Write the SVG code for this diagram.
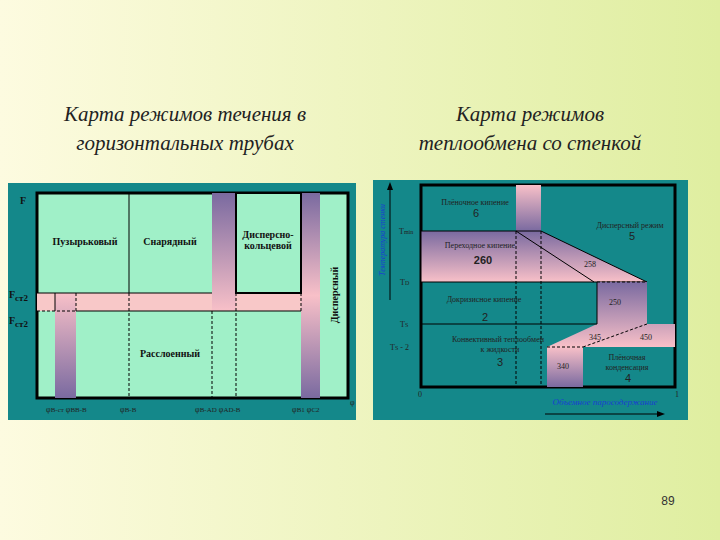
<svg xmlns="http://www.w3.org/2000/svg" width="720" height="540" viewBox="0 0 720 540">
<defs>
<linearGradient id="bg" x1="0" y1="0" x2="1" y2="0"><stop offset="0" stop-color="#fdfbe0"/><stop offset="1" stop-color="#dfeea0"/></linearGradient>
<linearGradient id="vb" x1="0" y1="0" x2="0" y2="1"><stop offset="0" stop-color="#7a6aa0"/><stop offset="0.5" stop-color="#f8c0c8"/><stop offset="1" stop-color="#7a6aa0"/></linearGradient>
<linearGradient id="vbd" x1="0" y1="0" x2="0" y2="1"><stop offset="0" stop-color="#f8c0c8"/><stop offset="1" stop-color="#7a6aa0"/></linearGradient>
<linearGradient id="vbu" x1="0" y1="0" x2="0" y2="1"><stop offset="0" stop-color="#7a6aa0"/><stop offset="1" stop-color="#f8c0c8"/></linearGradient>
<style>
.t{font-family:"Liberation Serif",serif;font-style:italic;font-size:21px;fill:#222}
.l{font-family:"Liberation Serif",serif;font-weight:bold;font-size:10px;fill:#111}
.s{font-family:"Liberation Serif",serif;font-size:8px;fill:#222}
.n{font-family:"Liberation Sans",sans-serif;font-size:11px;fill:#222}
.ln{stroke:#000;stroke-width:1;fill:none}
.ds{stroke:#000;stroke-width:1;stroke-dasharray:3,2;fill:none}
</style>
</defs>
<rect width="720" height="540" fill="url(#bg)"/>
<text class="t" x="185" y="121" text-anchor="middle">Карта режимов течения в</text>
<text class="t" x="185" y="150" text-anchor="middle">горизонтальных трубах</text>
<text class="t" x="530" y="121" text-anchor="middle">Карта режимов</text>
<text class="t" x="530" y="150" text-anchor="middle">теплообмена со стенкой</text>
<g id="left">
<rect x="8" y="183" width="348" height="237" fill="#14888a"/>
<rect x="37" y="193" width="311" height="205" fill="#a0f0c8" stroke="#000" stroke-width="3"/>
<rect x="37" y="293" width="264" height="18" fill="#f8c8c8"/>
<rect x="55" y="293" width="21" height="105" fill="url(#vbd)"/>
<rect x="212" y="193" width="24" height="118" fill="url(#vbu)"/>
<rect x="301" y="193" width="19" height="205" fill="url(#vb)"/>
<rect x="236" y="193" width="65" height="100" fill="#a0f0c8" stroke="#000" stroke-width="2"/>
<line class="ln" x1="129" y1="193" x2="129" y2="293"/>
<line class="ln" x1="37" y1="293" x2="212" y2="293"/>
<line class="ln" x1="76" y1="311" x2="301" y2="311"/>
<line class="ds" x1="37" y1="311" x2="76" y2="311"/>
<line class="ln" x1="55" y1="293" x2="55" y2="311"/>
<line class="ds" x1="76" y1="293" x2="76" y2="311"/>
<line class="ds" x1="129" y1="293" x2="129" y2="398"/>
<line class="ds" x1="212" y1="311" x2="212" y2="398"/>
<line class="ds" x1="236" y1="293" x2="236" y2="398"/>
<line class="ds" x1="301" y1="293" x2="301" y2="311"/>
<text class="l" x="85" y="245" text-anchor="middle">Пузырьковый</text>
<text class="l" x="170" y="245" text-anchor="middle">Снарядный</text>
<text class="l" x="268" y="238" text-anchor="middle">Дисперсно-</text>
<text class="l" x="268" y="249" text-anchor="middle">кольцевой</text>
<text class="l" x="170" y="357" text-anchor="middle">Расслоенный</text>
<text class="l" transform="translate(338,295) rotate(-90)" text-anchor="middle">Дисперсный</text>
<text class="l" x="20" y="204" font-size="17">F</text>
<text class="l" x="9" y="298" font-size="17">F<tspan font-size="9" dy="3">ст2</tspan></text>
<text class="l" x="9" y="324" font-size="17">F<tspan font-size="9" dy="3">ст2</tspan></text>
<text class="s" x="46" y="412" font-size="10">φ<tspan font-size="7">B-ст</tspan> φ<tspan font-size="7">BB-B</tspan></text>
<text class="s" x="120" y="412" font-size="10">φ<tspan font-size="7">B-B</tspan></text>
<text class="s" x="195" y="412" font-size="10">φ<tspan font-size="7">B-AD</tspan> φ<tspan font-size="7">AD-B</tspan></text>
<text class="s" x="292" y="412" font-size="10">φ<tspan font-size="7">B1</tspan> φ<tspan font-size="7">C2</tspan></text>
<text class="s" x="350" y="405" font-size="10">φ</text>
</g>
<g id="right">
<rect x="373" y="180" width="315" height="240" fill="#14888a"/>
<rect x="421" y="185" width="254" height="202" fill="#14888a" stroke="#000" stroke-width="3"/>
<rect x="516" y="185" width="25" height="46" fill="url(#vbd)"/>
<polygon points="421,231 541,231 647,282 421,282" fill="url(#vbu)" stroke="#000" stroke-width="1"/>
<polygon points="597,282 647,282 647,324 675,324 675,347 547,347 597,324" fill="url(#vbu)"/>
<rect x="547" y="347" width="36" height="40" fill="url(#vbd)"/>
<line class="ln" x1="516" y1="231" x2="594" y2="282"/>
<line class="ds" x1="597" y1="282" x2="647" y2="282" stroke-width="2"/>
<line class="ds" x1="516" y1="231" x2="516" y2="387" stroke-width="2"/>
<line class="ds" x1="541" y1="231" x2="541" y2="387"/>
<line class="ln" x1="421" y1="324" x2="597" y2="324"/>
<line class="ds" x1="547" y1="347" x2="583" y2="347" stroke-width="2"/>
<line class="ds" x1="583" y1="347" x2="647" y2="324"/>
<line class="ln" x1="597" y1="282" x2="597" y2="324"/>
<text class="s" x="475" y="205" text-anchor="middle">Плёночное кипение</text>
<text class="n" x="476" y="217" text-anchor="middle">6</text>
<text class="s" x="630" y="228" text-anchor="middle">Дисперсный режим</text>
<text class="n" x="632" y="240" text-anchor="middle">5</text>
<text class="s" x="480" y="248" text-anchor="middle">Переходное кипение</text>
<text class="n" x="483" y="264" text-anchor="middle" font-weight="bold" font-size="13">260</text>
<text class="s" x="590" y="267" text-anchor="middle">258</text>
<text class="s" x="484" y="302" text-anchor="middle">Докризисное кипение</text>
<text class="s" x="615" y="305" text-anchor="middle">250</text>
<text class="n" x="485" y="321" text-anchor="middle">2</text>
<text class="s" x="498" y="342" text-anchor="middle">Конвективный теплообмен</text>
<text class="s" x="500" y="352" text-anchor="middle">к жидкости</text>
<text class="n" x="500" y="366" text-anchor="middle">3</text>
<text class="s" x="595" y="340" text-anchor="middle">345</text>
<text class="s" x="646" y="340" text-anchor="middle">450</text>
<text class="s" x="563" y="369" text-anchor="middle">340</text>
<text class="s" x="627" y="360" text-anchor="middle">Плёночная</text>
<text class="s" x="627" y="370" text-anchor="middle">конденсация</text>
<text class="n" x="628" y="382" text-anchor="middle">4</text>
<text class="s" x="399" y="234">T<tspan font-size="6">min</tspan></text>
<text class="s" x="400" y="285">T<tspan font-size="6">D</tspan></text>
<text class="s" x="400" y="327">T<tspan font-size="6">S</tspan></text>
<text class="s" x="390" y="350">T<tspan font-size="6">S</tspan> - 2</text>
<text class="s" x="418" y="397">0</text>
<text class="s" x="675" y="397">1</text>
<line x1="390" y1="300" x2="390" y2="186" stroke="#000"/>
<polygon points="390,182 387,190 393,190" fill="#000"/>
<text transform="translate(385,240) rotate(-90)" text-anchor="middle" font-family="Liberation Serif,serif" font-style="italic" font-size="8" fill="#1a3fd0">Температура стенки</text>
<text x="605" y="405" text-anchor="middle" font-family="Liberation Serif,serif" font-style="italic" font-size="9" fill="#1a3fd0">Объемное паросодержание</text>
<line x1="545" y1="414" x2="660" y2="414" stroke="#000"/>
<polygon points="665,414 657,411 657,417" fill="#000"/>
</g>
<text x="668" y="505" text-anchor="middle" font-family="Liberation Sans,sans-serif" font-size="12" fill="#333">89</text>
</svg>
